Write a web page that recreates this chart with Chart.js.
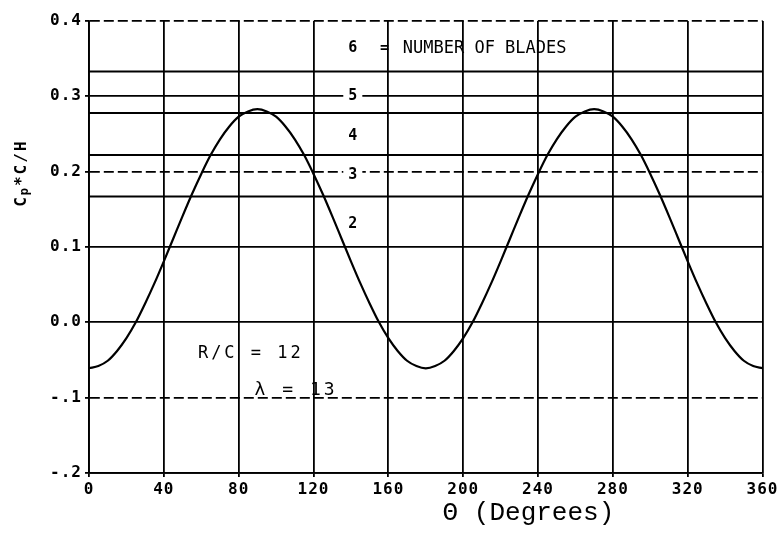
<!DOCTYPE html>
<html>
<head>
<meta charset="utf-8">
<script src="https://cdn.jsdelivr.net/npm/chart.js@4/dist/chart.umd.min.js"></script>
<style>
  html, body { margin: 0; padding: 0; background: #fff; }
  #wrap { width: 780px; height: 534px; }
</style>
</head>
<body>
<div id="wrap"><canvas id="cp-chart" width="780" height="534"></canvas></div>
<script>
// blade angle theta, degrees
var thetaDeg = [0, 5, 10, 15, 20, 25, 30, 35, 40, 45, 50, 55, 60, 65, 70, 75, 80, 85, 90,
  95, 100, 105, 110, 115, 120, 125, 130, 135, 140, 145, 150, 155, 160, 165, 170, 175, 180,
  185, 190, 195, 200, 205, 210, 215, 220, 225, 230, 235, 240, 245, 250, 255, 260, 265, 270,
  275, 280, 285, 290, 295, 300, 305, 310, 315, 320, 325, 330, 335, 340, 345, 350, 355, 360];
// Cp*C/H
var cpValues = [-0.061, -0.058, -0.051, -0.038, -0.021, 0.000, 0.025, 0.052, 0.081, 0.111,
  0.141, 0.170, 0.197, 0.222, 0.243, 0.260, 0.273, 0.280, 0.283,
  0.280, 0.273, 0.260, 0.243, 0.222, 0.197, 0.170, 0.141, 0.111, 0.081, 0.052, 0.025,
  0.000, -0.021, -0.038, -0.051, -0.058, -0.061,
  -0.058, -0.051, -0.038, -0.021, 0.000, 0.025, 0.052, 0.081, 0.111,
  0.141, 0.170, 0.197, 0.222, 0.243, 0.260, 0.273, 0.280, 0.283,
  0.280, 0.273, 0.260, 0.243, 0.222, 0.197, 0.170, 0.141, 0.111, 0.081, 0.052, 0.025,
  0.000, -0.021, -0.038, -0.051, -0.058, -0.061];
// horizontal levels for 6,5,4,3 blades
var bladeLevels = [0.333, 0.278, 0.222, 0.167];
var bladeLabels = ["6", "5", "4", "3", "2"];
var bladeLabelY = [0.364, 0.300, 0.247, 0.196, 0.130];
var xTickLabels = ["0", "40", "80", "120", "160", "200", "240", "280", "320", "360"];
var yTickLabels = ["-.2", "-.1", "0.0", "0.1", "0.2", "0.3", "0.4"];

var curve = [];
for (var i = 0; i < thetaDeg.length; i++) {
  curve.push({ x: thetaDeg[i], y: cpValues[i] });
}

var datasets = [{
  data: curve,
  borderColor: "#000",
  borderWidth: 2.2,
  pointRadius: 0,
  cubicInterpolationMode: "monotone",
}];
bladeLevels.forEach(function (lv) {
  datasets.push({
    data: [{ x: 0, y: lv }, { x: 360, y: lv }],
    borderColor: "#000",
    borderWidth: 2,
    pointRadius: 0,
  });
});

var mono = "'DejaVu Sans Mono', monospace";

function txt(ctx, s, x, y, font, align, spacing, bg) {
  ctx.save();
  ctx.font = font;
  ctx.letterSpacing = (spacing || 0) + "px";
  ctx.textAlign = align || "left";
  ctx.textBaseline = "middle";
  if (bg) {
    var w = ctx.measureText(s).width;
    var x0 = align === "center" ? x - w / 2 : x;
    ctx.fillStyle = "#fff";
    ctx.fillRect(x0 - 5, y - 6, w + 10, 12);
  }
  ctx.fillStyle = "#000";
  ctx.fillText(s, x, y);
  ctx.restore();
}

var textPlugin = {
  id: "texts",
  beforeDraw: function (chart) {
    var ctx = chart.ctx;
    ctx.save();
    ctx.fillStyle = "#fff";
    ctx.fillRect(0, 0, chart.width, chart.height);
    ctx.restore();
    ctx.letterSpacing = "1px";
  },
  beforeDatasetsDraw: function (chart) {
    chart.ctx.letterSpacing = "0px";
  },
  afterDraw: function (chart) {
    var ctx = chart.ctx;
    var xs = chart.scales.x, ys = chart.scales.y;
    var bx = xs.getPixelForValue(141);
    for (var i = 0; i < bladeLabels.length; i++) {
      var bg = bladeLabels[i] === "5" || bladeLabels[i] === "3";
      txt(ctx, bladeLabels[i], bx, ys.getPixelForValue(bladeLabelY[i]),
        "bold 15px " + mono, "center", 0, bg);
    }
    var ty = ys.getPixelForValue(0.364);
    txt(ctx, "=", xs.getPixelForValue(158), ty, "bold 15px " + mono, "center", 0);
    txt(ctx, "NUMBER OF BLADES", xs.getPixelForValue(167.7), ty, "17px " + mono, "left", 0);

    txt(ctx, "R/C = 12", xs.getPixelForValue(58.2), ys.getPixelForValue(-0.041),
      "17px " + mono, "left", 3);
    txt(ctx, "\u03bb = 13", xs.getPixelForValue(88.5), ys.getPixelForValue(-0.090),
      "18px " + mono, "left", 3);

    // x title
    ctx.save();
    ctx.font = "26px 'Liberation Mono', monospace";
    ctx.fillStyle = "#000";
    ctx.textBaseline = "alphabetic";
    ctx.fillText("\u0398 (Degrees)", xs.getPixelForValue(189), 520);
    ctx.restore();

    // y title, rotated, with subscript p
    ctx.save();
    ctx.translate(22, ys.getPixelForValue(0.198));
    ctx.rotate(-Math.PI / 2);
    ctx.fillStyle = "#000";
    ctx.textBaseline = "middle";
    ctx.letterSpacing = "2px";
    ctx.font = "bold 16px " + mono;
    var full = ctx.measureText("C").width + ctx.measureText("*C/H").width;
    ctx.font = "bold 12px " + mono;
    full += ctx.measureText("p").width;
    var x0 = -full / 2;
    ctx.font = "bold 16px " + mono;
    ctx.fillText("C", x0, 0);
    x0 += ctx.measureText("C").width;
    ctx.font = "bold 12px " + mono;
    ctx.fillText("p", x0, 3);
    x0 += ctx.measureText("p").width;
    ctx.font = "bold 16px " + mono;
    ctx.fillText("*C/H", x0, 0);
    ctx.restore();
  },
};

var config = {
  type: "line",
  data: { datasets: datasets },
  options: {
    responsive: false,
    animation: false,
    layout: { padding: { left: 0, right: 17, top: 21, bottom: 0 } },
    plugins: { legend: { display: false }, tooltip: { enabled: false } },
    scales: {
      x: {
        type: "linear",
        min: 0,
        max: 360,
        afterFit: function (s) { s.height = 61; },
        ticks: {
          stepSize: 40,
          color: "#000",
          padding: 3,
          maxRotation: 0,
          font: { family: "DejaVu Sans Mono", size: 16, weight: "bold" },
          callback: function (v, idx) { return xTickLabels[idx]; },
        },
        grid: { color: "#000", lineWidth: 1.8, tickLength: 4 },
        border: { color: "#000", width: 1.8 },
      },
      y: {
        type: "linear",
        min: -0.2,
        max: 0.4,
        afterFit: function (s) { s.width = 89; },
        ticks: {
          stepSize: 0.1,
          color: "#000",
          padding: 3,
          font: { family: "DejaVu Sans Mono", size: 16, weight: "bold" },
          callback: function (v, idx) { return yTickLabels[idx]; },
        },
        grid: { color: "#000", lineWidth: 1.8, tickLength: 4 },
        border: {
          color: "#000",
          width: 1.8,
          dash: function (c) {
            if (!c.tick) return [];
            var v = Math.round(c.tick.value * 10);
            return (v === 4 || v === 2 || v === -1) ? [10, 4] : [];
          },
        },
      },
    },
  },
  plugins: [textPlugin],
};

var myChart = new Chart(document.getElementById("cp-chart"), config);
</script>
</body>
</html>
